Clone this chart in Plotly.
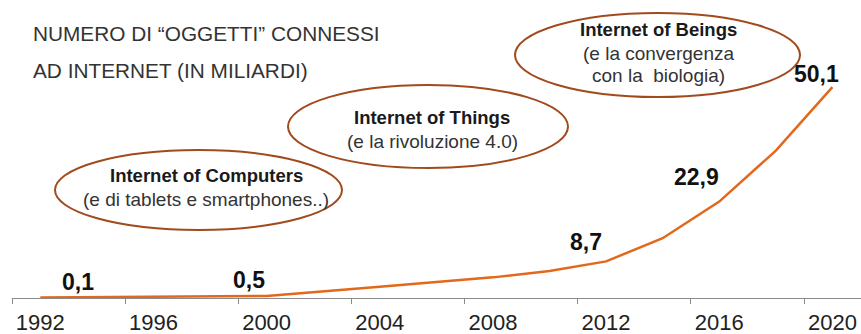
import plotly.graph_objects as go

# ---- data ----
years = [1992, 2000, 2004, 2008, 2010, 2012, 2014, 2016, 2018, 2020]
values = [0.1, 0.5, 2.7, 4.9, 6.4, 8.7, 14.2, 22.9, 35.0, 50.1]
label_years = [1992, 2000, 2012, 2016, 2020]
label_values = [0.1, 0.5, 8.7, 22.9, 50.1]
tick_years = [1992, 1996, 2000, 2004, 2008, 2012, 2016, 2020]
tick_labels = [str(y) for y in tick_years]
title_lines = ["NUMERO DI “OGGETTI” CONNESSI", "AD INTERNET (IN MILIARDI)"]
bubble_titles = ["Internet of Computers", "Internet of Things", "Internet of Beings"]
bubble_subs = [["(e di tablets e smartphones..)"],
               ["(e la rivoluzione 4.0)"],
               ["(e la convergenza", "con la  biologia)"]]

W, H = 861, 334
ML, MR, MT, MB = 12, 0, 0, 36
PW, PH = W - ML - MR, H - MT - MB


def px(x):
    return (x - ML) / PW


def py(y):
    return (H - MB - y) / PH


LINE_COLOR = "#E2691C"
ELL_COLOR = "#A04A1E"
SANS = "Liberation Sans, Arial, sans-serif"

fig = go.Figure()
fig.add_trace(go.Scatter(x=years, y=values, mode="lines",
                         line=dict(color=LINE_COLOR, width=2.5),
                         hoverinfo="skip", showlegend=False))

# data labels
label_shifts = [(38, 16), (-18, 16), (-20, 19), (-23, 25), (-16, 13)]
for yr, v, (dx, dy) in zip(label_years, label_values, label_shifts):
    fig.add_annotation(x=yr, y=v, xref="x", yref="y",
                       text="<b>" + f"{v:.1f}".replace(".", ",") + "</b>",
                       showarrow=False, xshift=dx, yshift=dy, xanchor="center", yanchor="middle",
                       font=dict(family=SANS, size=23, color="#111111"))

# title
for txt, yy in zip(title_lines, [33, 70]):
    fig.add_annotation(x=px(31), y=py(yy), xref="paper", yref="paper", text=txt,
                       showarrow=False, xanchor="left", yanchor="middle",
                       font=dict(family=SANS, size=20.8, color="#333333"))

# ellipses
ellipses = [(55, 150, 342, 230), (288, 85, 568, 168), (515, 13, 800, 97)]
for (x0, y0, x1, y1) in ellipses:
    fig.add_shape(type="circle", xref="paper", yref="paper",
                  x0=px(x0), x1=px(x1), y0=py(y1), y1=py(y0),
                  line=dict(color=ELL_COLOR, width=2))

heads = [(206, 175), (432, 117), (658, 30)]
for title, (hx, hy), subs in zip(bubble_titles, heads, bubble_subs):
    fig.add_annotation(x=px(hx), y=py(hy), xref="paper", yref="paper", text=f"<b>{title}</b>",
                       showarrow=False, xanchor="center", yanchor="middle",
                       font=dict(family=SANS, size=18.5, color="#1a1a1a"))
    for i, s in enumerate(subs):
        fig.add_annotation(x=px(hx), y=py(hy + 24 + 22 * i), xref="paper", yref="paper", text=s,
                           showarrow=False, xanchor="center", yanchor="middle",
                           font=dict(family=SANS, size=19, color="#333333"))

fig.update_layout(
    width=W, height=H,
    margin=dict(l=ML, r=MR, t=MT, b=MB, autoexpand=False),
    paper_bgcolor="white", plot_bgcolor="white",
    xaxis=dict(range=[1991, 1991 + PW / 28.29], showgrid=False, zeroline=False,
               showline=True, linecolor="#8a8a8a", linewidth=1, automargin=False,
               tickmode="array", tickvals=tick_years, ticktext=tick_labels,
               ticks="outside", ticklen=5, tickcolor="rgba(0,0,0,0)",
               tickfont=dict(family=SANS, size=22, color="#222222"),
               minor=dict(tickmode="array", tickvals=[y - 1 for y in tick_years],
                          ticks="outside", ticklen=5, tickcolor="#8a8a8a", showgrid=False),
               fixedrange=True),
    yaxis=dict(range=[0, PH / 4.21], visible=False, fixedrange=True),
    showlegend=False,
)

fig.write_html("out.html")
